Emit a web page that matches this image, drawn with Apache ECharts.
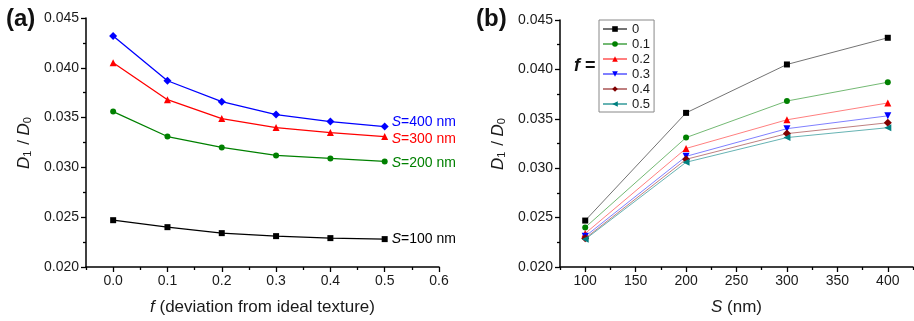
<!DOCTYPE html>
<html>
<head>
<meta charset="utf-8">
<script src="https://cdn.jsdelivr.net/npm/echarts@6/dist/echarts.min.js"></script>
<style>
  html, body { margin: 0; padding: 0; background: #fff; }
  #chart { width: 914px; height: 321px; }
</style>
</head>
<body>
<div id="chart"></div>
<script>
// f values (deviation from ideal texture) and grain sizes S (nm)
const fValues = [0, 0.1, 0.2, 0.3, 0.4, 0.5];
const sValues = [100, 200, 300, 400];

// D1/D0 for each S, one value per f
const d100 = [0.0247, 0.0240, 0.0234, 0.0231, 0.0229, 0.0228];
const d200 = [0.0356, 0.0331, 0.0320, 0.0312, 0.0309, 0.0306];
const d300 = [0.0405, 0.0368, 0.0349, 0.0340, 0.0335, 0.0331];
const d400 = [0.0432, 0.0387, 0.0366, 0.0353, 0.0346, 0.0341];

const xTicksA = [0, 0.1, 0.2, 0.3, 0.4, 0.5, 0.6];
const xMinorA = [-0.05, 0.05, 0.15, 0.25, 0.35, 0.45, 0.55];
const xTicksB = [100, 150, 200, 250, 300, 350, 400];
const xMinorB = [75, 125, 175, 225, 275, 325, 375, 425];

const fNames = ['0', '0.1', '0.2', '0.3', '0.4', '0.5'];

const FONT = '"Liberation Sans", Arial, Helvetica, sans-serif';
const TXT = '#1a1a1a';

const myChart = echarts.init(document.getElementById('chart'), null, {renderer: 'canvas'});

// panel (a) series
const sSeries = [
  {name: 'S=100 nm', data: d100, color: '#000000', symbol: 'rect', size: 6, dy: 0, label: '100'},
  {name: 'S=200 nm', data: d200, color: '#008000', symbol: 'circle', size: 6, dy: 2, label: '200'},
  {name: 'S=300 nm', data: d300, color: '#ff0000', symbol: 'triangle', size: 7, dy: 3, label: '300'},
  {name: 'S=400 nm', data: d400, color: '#0000ff', symbol: 'diamond', size: 8, dy: -4, label: '400'},
];

// panel (b) series: one per f, transposed from the table above
const table = [d100, d200, d300, d400];
const fStyles = [
  {marker: '#000000', line: 'rgba(0,0,0,0.55)', symbol: 'rect', size: 6, rot: 0},
  {marker: '#008000', line: 'rgba(0,128,0,0.55)', symbol: 'circle', size: 6, rot: 0},
  {marker: '#ff0000', line: 'rgba(255,0,0,0.5)', symbol: 'triangle', size: 7, rot: 0},
  {marker: '#0000ff', line: 'rgba(0,0,255,0.5)', symbol: 'triangle', size: 7, rot: 180},
  {marker: '#800000', line: 'rgba(128,0,0,0.5)', symbol: 'diamond', size: 8, rot: 0},
  {marker: '#008080', line: 'rgba(0,128,128,0.6)', symbol: 'triangle', size: 7, rot: 90},
];

const series = [];
sSeries.forEach(s => {
  series.push({
    name: s.name,
    type: 'line',
    xAxisIndex: 0,
    yAxisIndex: 0,
    data: fValues.map((f, i) => [f, s.data[i]]),
    symbol: s.symbol,
    symbolSize: s.size,
    itemStyle: {color: s.color},
    lineStyle: {color: s.color, width: 1.3},
    endLabel: {
      show: true,
      formatter: '{i|S}=' + s.label + ' nm',
      color: s.color,
      fontSize: 14,
      fontFamily: FONT,
      distance: 7,
      offset: [0, s.dy],
      rich: {i: {fontStyle: 'italic', fontSize: 14, color: s.color, fontFamily: FONT}}
    }
  });
});

fNames.forEach((name, k) => {
  const st = fStyles[k];
  series.push({
    name: name,
    type: 'line',
    xAxisIndex: 2,
    yAxisIndex: 1,
    data: sValues.map((sv, j) => [sv, table[j][k]]),
    symbol: st.symbol,
    symbolSize: st.size,
    symbolRotate: st.rot,
    itemStyle: {color: st.marker},
    lineStyle: {color: st.line, width: 1},
  });
});

const axisLine = {show: true, onZero: false, lineStyle: {color: '#000', width: 1.5}};
const tickStyle = {color: '#000', width: 1.3};

function yAxis(gridIndex) {
  return {
    type: 'value',
    gridIndex: gridIndex,
    min: 0.020,
    max: 0.045,
    interval: 0.005,
    name: '{d|D}{s|1}{t| / }{d|D}{s|0}',
    nameLocation: 'middle',
    nameRotate: 90,
    nameGap: 53,
    nameTextStyle: {
      color: TXT, fontFamily: FONT, fontSize: 17,
      rich: {
        d: {fontStyle: 'italic', fontSize: 17, fontFamily: FONT, color: TXT},
        s: {fontSize: 11, fontFamily: FONT, color: TXT, verticalAlign: 'bottom', padding: [0, 1, 0, 0]},
        t: {fontSize: 17, fontFamily: FONT, color: TXT}
      }
    },
    axisLine: axisLine,
    axisTick: {show: true, length: 5, inside: false, lineStyle: tickStyle},
    minorTick: {show: true, splitNumber: 2, length: 3, lineStyle: tickStyle},
    splitLine: {show: false},
    axisLabel: {
      color: TXT, fontFamily: FONT, fontSize: 14, margin: 7,
      formatter: v => v.toFixed(3)
    }
  };
}

myChart.setOption({
  animation: false,
  backgroundColor: '#fff',
  title: [
    {text: '(a)', left: 6, top: 7, padding: 0,
      textStyle: {fontSize: 24, fontWeight: 'bold', color: '#111', fontFamily: FONT}},
    {text: '(b)', left: 476, top: 7, padding: 0,
      textStyle: {fontSize: 24, fontWeight: 'bold', color: '#111', fontFamily: FONT}},
    {text: '{i|f} =', left: 574, top: 57, padding: 0,
      textStyle: {fontSize: 18, color: '#111', fontFamily: FONT,
        rich: {i: {fontStyle: 'italic', fontSize: 18, color: '#111', fontFamily: FONT}}}}
  ],
  legend: {
    data: fNames,
    orient: 'vertical',
    left: 599,
    top: 20,
    itemWidth: 24,
    itemHeight: 7,
    itemGap: 1,
    padding: [2, 4, 1, 3],
    borderColor: '#888',
    borderWidth: 1,
    textStyle: {fontSize: 13, lineHeight: 14, color: TXT, fontFamily: FONT}
  },
  grid: [
    {left: 86, top: 18, width: 353, height: 250},
    {left: 560, top: 20, width: 353, height: 248}
  ],
  xAxis: [
    {
      type: 'value', gridIndex: 0, min: -0.05, max: 0.6,
      name: '{i|f} (deviation from ideal texture)',
      nameLocation: 'middle', nameGap: 32,
      nameTextStyle: {color: TXT, fontFamily: FONT, fontSize: 17,
        rich: {i: {fontStyle: 'italic', fontSize: 17, fontFamily: FONT, color: TXT}}},
      axisLine: axisLine,
      axisTick: {show: true, length: 5, customValues: xTicksA, lineStyle: tickStyle},
      axisLabel: {color: TXT, fontFamily: FONT, fontSize: 14, margin: 7,
        customValues: xTicksA, formatter: v => v.toFixed(1)},
      splitLine: {show: false}
    },
    {
      type: 'value', gridIndex: 0, min: -0.05, max: 0.6, position: 'bottom',
      axisLine: {show: false},
      axisTick: {show: true, length: 3, customValues: xMinorA, lineStyle: tickStyle},
      axisLabel: {show: false},
      splitLine: {show: false}
    },
    {
      type: 'value', gridIndex: 1, min: 75, max: 425,
      name: '{i|S} (nm)',
      nameLocation: 'middle', nameGap: 32,
      nameTextStyle: {color: TXT, fontFamily: FONT, fontSize: 17,
        rich: {i: {fontStyle: 'italic', fontSize: 17, fontFamily: FONT, color: TXT}}},
      axisLine: axisLine,
      axisTick: {show: true, length: 5, customValues: xTicksB, lineStyle: tickStyle},
      axisLabel: {color: TXT, fontFamily: FONT, fontSize: 14, margin: 7,
        customValues: xTicksB},
      splitLine: {show: false}
    },
    {
      type: 'value', gridIndex: 1, min: 75, max: 425, position: 'bottom',
      axisLine: {show: false},
      axisTick: {show: true, length: 3, customValues: xMinorB, lineStyle: tickStyle},
      axisLabel: {show: false},
      splitLine: {show: false}
    }
  ],
  yAxis: [yAxis(0), yAxis(1)],
  series: series
});
</script>
</body>
</html>
